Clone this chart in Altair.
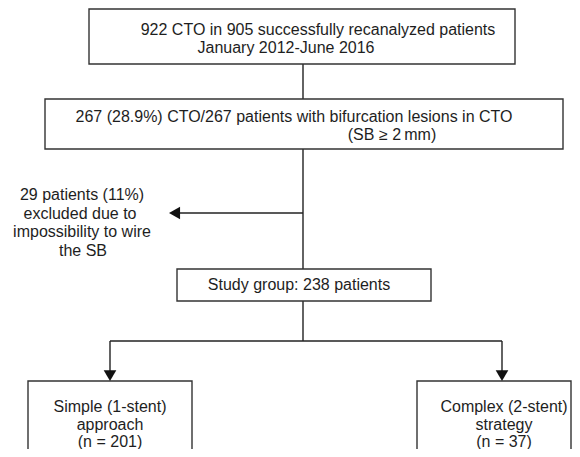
import altair as alt
import pandas as pd

# ---- content (text of the flowchart) ----
top_box_lines = ["922 CTO in 905 successfully recanalyzed patients", "January 2012-June 2016"]
bif_box_lines = ["267 (28.9%) CTO/267 patients with bifurcation lesions in CTO", "(SB \u2265 2\u2009mm)"]
excluded_lines = ["29 patients (11%)", "excluded due to", "impossibility to wire", "the SB"]
study_lines = ["Study group: 238 patients"]
simple_lines = ["Simple (1-stent)", "approach", "(n = 201)"]
complex_lines = ["Complex (2-stent)", "strategy", "(n = 37)"]

# ---- layout (pixel positions in the 580x457 page) ----
boxes = pd.DataFrame({
    "x": [89, 45, 177, 28, 417],
    "x2": [515, 563, 431, 192, 571],
    "y": [9, 99, 269, 381, 381],
    "y2": [64, 149, 301, 475, 475],
})
segments = pd.DataFrame({
    "x": [303, 303, 303, 303, 110, 110, 502],
    "x2": [303, 303, 178, 303, 502, 110, 502],
    "y": [64, 149, 213, 301, 341, 341, 341],
    "y2": [99, 269, 213, 341, 341, 371, 371],
})
heads_left = pd.DataFrame({"x": [169], "y": [213]})
heads_down = pd.DataFrame({"x": [110, 502], "y": [381, 381]})

text_rows = []
def add(lines, xs, y0, dy):
    for i, t in enumerate(lines):
        x = xs[i] if isinstance(xs, list) else xs
        text_rows.append({"x": x, "y": y0 + i * dy, "text": t})

add(top_box_lines, [318, 286], 30, 18)
add(bif_box_lines, [294, 392], 117, 18)
add(excluded_lines, [82, 80, 82, 83], 195, 18.5)
add(study_lines, 299, 285, 18)
add(simple_lines, 110, 407, 17.5)
add(complex_lines, 504, 407, 17.5)
texts = pd.DataFrame(text_rows)

xs = alt.Scale(domain=[8, 572])
ys = alt.Scale(domain=[8, 449], reverse=True)
LINE = "#222222"

box_layer = alt.Chart(boxes).mark_rect(fill="white", stroke="#333333", strokeWidth=1.4).encode(
    x=alt.X("x:Q", scale=xs, axis=None),
    x2="x2:Q",
    y=alt.Y("y:Q", scale=ys, axis=None),
    y2="y2:Q",
)
seg_layer = alt.Chart(segments).mark_rule(color=LINE, strokeWidth=1.4).encode(
    x=alt.X("x:Q", scale=xs, axis=None), x2="x2:Q",
    y=alt.Y("y:Q", scale=ys, axis=None), y2="y2:Q",
)
left_layer = alt.Chart(heads_left).mark_point(
    shape="M0,0L1.75,-1L1.75,1Z", size=160, filled=True, color="#111", opacity=1, strokeWidth=0
).encode(x=alt.X("x:Q", scale=xs, axis=None), y=alt.Y("y:Q", scale=ys, axis=None))
down_layer = alt.Chart(heads_down).mark_point(
    shape="M0,0L-1,-1.7L1,-1.7Z", size=160, filled=True, color="#111", opacity=1, strokeWidth=0
).encode(x=alt.X("x:Q", scale=xs, axis=None), y=alt.Y("y:Q", scale=ys, axis=None))
text_layer = alt.Chart(texts).mark_text(
    font="Liberation Sans", fontSize=16, color="#1e1e1e", align="center", baseline="middle"
).encode(
    x=alt.X("x:Q", scale=xs, axis=None),
    y=alt.Y("y:Q", scale=ys, axis=None),
    text="text:N",
)

chart = alt.layer(seg_layer, box_layer, left_layer, down_layer, text_layer).properties(
    width=564, height=441,
    padding=0,
    autosize=alt.AutoSizeParams(type="none"),
    background="white",
).configure_view(stroke=None)

chart.save("out.html", embed_options={"renderer": "svg", "actions": False})
